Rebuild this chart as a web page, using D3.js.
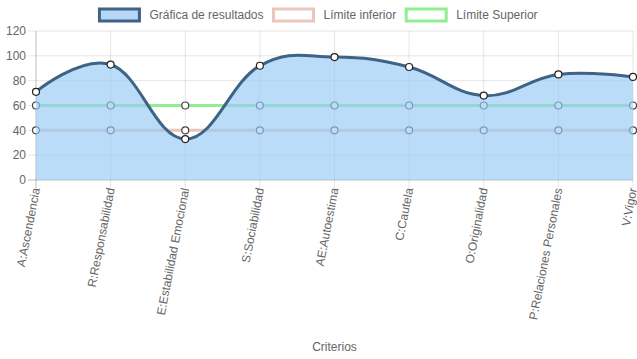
<!DOCTYPE html>
<html>
<head>
<meta charset="utf-8">
<script src="https://cdn.jsdelivr.net/npm/d3@7"></script>
<style>
  body { margin: 0; background: #fff; }
  text { font-family: "Liberation Sans", Arial, Helvetica, sans-serif; font-size: 12px; fill: #666; }
</style>
</head>
<body>
<script>
// chart data
var categorias = ["A:Ascendencia", "R:Responsabilidad", "E:Estabilidad Emocional", "S:Sociabilidad",
    "AE:Autoestima", "C:Cautela", "O:Originalidad", "P:Relaciones Personales", "V:Vigor"];
var resultados = [71, 93, 33, 92, 99, 91, 68, 85, 83];
var limiteInferior = [40, 40, 40, 40, 40, 40, 40, 40, 40];
var limiteSuperior = [60, 60, 60, 60, 60, 60, 60, 60, 60];
var yTicks = [0, 20, 40, 60, 80, 100, 120];
var leyenda = ["Gráfica de resultados", "Límite inferior", "Límite Superior"];

var w = 637, h = 359;
var plotLeft = 36, plotRight = 633, plotTop = 31, plotBottom = 180;

var svg = d3.select("body").append("svg")
    .attr("width", w)
    .attr("height", h);

var x = d3.scalePoint().domain(categorias).range([plotLeft, plotRight]);
var y = d3.scaleLinear().domain([0, 120]).range([plotBottom, plotTop]);

// grid
var grid = svg.append("g");
grid.selectAll(".hg").data(yTicks).enter().append("line")
    .attr("x1", plotLeft - 8).attr("x2", plotRight)
    .attr("y1", function (d) { return y(d); }).attr("y2", function (d) { return y(d); })
    .attr("stroke", function (d) { return d === 0 ? "rgba(0,0,0,0.25)" : "rgba(0,0,0,0.1)"; })
    .attr("stroke-width", 1);
grid.selectAll(".vg").data(categorias).enter().append("line")
    .attr("x1", function (d) { return x(d); }).attr("x2", function (d) { return x(d); })
    .attr("y1", plotTop).attr("y2", plotBottom + 8)
    .attr("stroke", function (d, i) { return i === 0 ? "rgba(0,0,0,0.25)" : "rgba(0,0,0,0.1)"; })
    .attr("stroke-width", 1);

// y tick labels
svg.append("g").selectAll("text").data(yTicks).enter().append("text")
    .attr("x", plotLeft - 10)
    .attr("y", function (d) { return y(d); })
    .attr("dy", "0.35em")
    .attr("text-anchor", "end")
    .text(function (d) { return d; });

// x tick labels
svg.append("g").selectAll("text").data(categorias).enter().append("text")
    .attr("transform", function (d) { return "translate(" + x(d) + "," + (plotBottom + 8) + ") rotate(-79)"; })
    .attr("dy", "0.35em")
    .attr("text-anchor", "end")
    .text(function (d) { return d; });

// axis title
svg.append("text")
    .attr("x", (plotLeft + plotRight) / 2)
    .attr("y", 351)
    .attr("text-anchor", "middle")
    .text("Criterios");

var curve = d3.curveCardinal.tension(-0.2);

function drawLine(values, color) {
    var line = d3.line()
        .x(function (d, i) { return x(categorias[i]); })
        .y(function (d) { return y(d); })
        .curve(curve);
    svg.append("path")
        .datum(values)
        .attr("d", line)
        .attr("fill", "none")
        .attr("stroke", color)
        .attr("stroke-width", 3);
    svg.append("g").selectAll("circle").data(values).enter().append("circle")
        .attr("cx", function (d, i) { return x(categorias[i]); })
        .attr("cy", function (d) { return y(d); })
        .attr("r", 3.5)
        .attr("fill", "#fff")
        .attr("stroke", "#444")
        .attr("stroke-width", 1.2);
}

// datasets drawn in reverse order like the original
drawLine(limiteSuperior, "#90ee90");
drawLine(limiteInferior, "#e9c8bb");

var area = d3.area()
    .x(function (d, i) { return x(categorias[i]); })
    .y0(plotBottom)
    .y1(function (d) { return y(d); })
    .curve(curve);
svg.append("path")
    .datum(resultados)
    .attr("d", area)
    .attr("fill", "rgba(151,201,245,0.65)");

var line = d3.line()
    .x(function (d, i) { return x(categorias[i]); })
    .y(function (d) { return y(d); })
    .curve(curve);
svg.append("path")
    .datum(resultados)
    .attr("d", line)
    .attr("fill", "none")
    .attr("stroke", "#3e6385")
    .attr("stroke-width", 3);
svg.append("g").selectAll("circle").data(resultados).enter().append("circle")
    .attr("cx", function (d, i) { return x(categorias[i]); })
    .attr("cy", function (d) { return y(d); })
    .attr("r", 3.5)
    .attr("fill", "#fff")
    .attr("stroke", "#222")
    .attr("stroke-width", 1.2);

// legend
var legFill = ["#b6d7f5", "#fff", "#fff"];
var legStroke = ["#3e6385", "#e9c8bb", "#90ee90"];
var leg = svg.append("g");
var items = leg.selectAll("g").data(leyenda).enter().append("g");
items.append("rect")
    .attr("width", 40).attr("height", 12)
    .attr("fill", function (d, i) { return legFill[i]; })
    .attr("stroke", function (d, i) { return legStroke[i]; })
    .attr("stroke-width", 3);
items.append("text")
    .attr("x", 50).attr("y", 6).attr("dy", "0.35em")
    .text(function (d) { return d; });
var widths = [];
items.each(function () { widths.push(50 + d3.select(this).select("text").node().getComputedTextLength()); });
var total = d3.sum(widths) + 10 * (widths.length - 1);
var pos = (w - total) / 2;
items.attr("transform", function (d, i) {
    var t = "translate(" + pos + ",9)";
    pos += widths[i] + 10;
    return t;
});
</script>
</body>
</html>
